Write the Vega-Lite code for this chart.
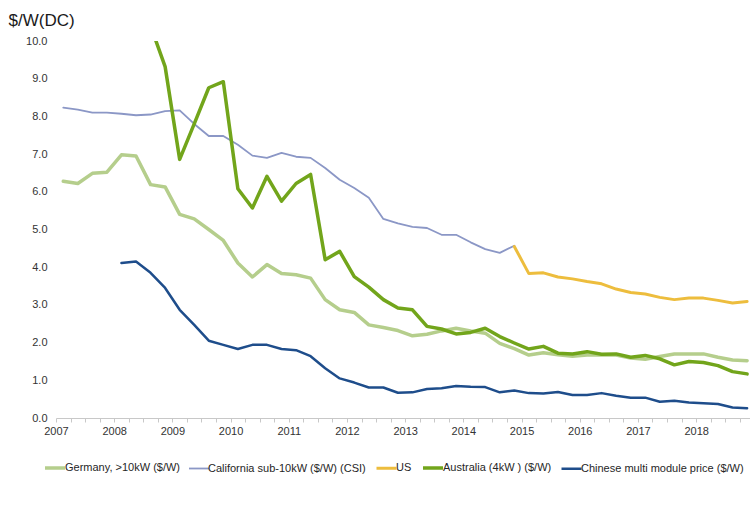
{
  "$schema": "https://vega.github.io/schema/vega-lite/v6.json",
  "autosize": {"type": "none"},
  "padding": {"left": 56, "top": 41, "right": 0, "bottom": 89},
  "width": 694,
  "height": 377,
  "background": "white",
  "config": {"font": "Liberation Sans", "view": {"stroke": null}},
  "data": {"values": [
    {"t": 2007.00, "Germany, >10kW ($/W)": 6.28, "California sub-10kW ($/W) (CSI)": 8.23},
    {"t": 2007.25, "Germany, >10kW ($/W)": 6.22, "California sub-10kW ($/W) (CSI)": 8.18},
    {"t": 2007.50, "Germany, >10kW ($/W)": 6.49, "California sub-10kW ($/W) (CSI)": 8.10},
    {"t": 2007.75, "Germany, >10kW ($/W)": 6.52, "California sub-10kW ($/W) (CSI)": 8.10},
    {"t": 2008.00, "Germany, >10kW ($/W)": 6.98, "California sub-10kW ($/W) (CSI)": 8.07, "Chinese multi module price ($/W)": 4.11},
    {"t": 2008.25, "Germany, >10kW ($/W)": 6.95, "California sub-10kW ($/W) (CSI)": 8.03, "Chinese multi module price ($/W)": 4.15},
    {"t": 2008.50, "Germany, >10kW ($/W)": 6.19, "California sub-10kW ($/W) (CSI)": 8.05, "Australia (4kW ) ($/W)": 10.4, "Chinese multi module price ($/W)": 3.85},
    {"t": 2008.75, "Germany, >10kW ($/W)": 6.13, "California sub-10kW ($/W) (CSI)": 8.14, "Australia (4kW ) ($/W)": 9.32, "Chinese multi module price ($/W)": 3.45},
    {"t": 2009.00, "Germany, >10kW ($/W)": 5.40, "California sub-10kW ($/W) (CSI)": 8.16, "Australia (4kW ) ($/W)": 6.86, "Chinese multi module price ($/W)": 2.87},
    {"t": 2009.25, "Germany, >10kW ($/W)": 5.28, "California sub-10kW ($/W) (CSI)": 7.80, "Australia (4kW ) ($/W)": 7.80, "Chinese multi module price ($/W)": 2.47},
    {"t": 2009.50, "Germany, >10kW ($/W)": 5.00, "California sub-10kW ($/W) (CSI)": 7.48, "Australia (4kW ) ($/W)": 8.76, "Chinese multi module price ($/W)": 2.05},
    {"t": 2009.75, "Germany, >10kW ($/W)": 4.71, "California sub-10kW ($/W) (CSI)": 7.48, "Australia (4kW ) ($/W)": 8.92, "Chinese multi module price ($/W)": 1.94},
    {"t": 2010.00, "Germany, >10kW ($/W)": 4.11, "California sub-10kW ($/W) (CSI)": 7.25, "Australia (4kW ) ($/W)": 6.08, "Chinese multi module price ($/W)": 1.83},
    {"t": 2010.25, "Germany, >10kW ($/W)": 3.74, "California sub-10kW ($/W) (CSI)": 6.96, "Australia (4kW ) ($/W)": 5.57, "Chinese multi module price ($/W)": 1.94},
    {"t": 2010.50, "Germany, >10kW ($/W)": 4.07, "California sub-10kW ($/W) (CSI)": 6.90, "Australia (4kW ) ($/W)": 6.41, "Chinese multi module price ($/W)": 1.94},
    {"t": 2010.75, "Germany, >10kW ($/W)": 3.83, "California sub-10kW ($/W) (CSI)": 7.03, "Australia (4kW ) ($/W)": 5.75, "Chinese multi module price ($/W)": 1.83},
    {"t": 2011.00, "Germany, >10kW ($/W)": 3.80, "California sub-10kW ($/W) (CSI)": 6.93, "Australia (4kW ) ($/W)": 6.22, "Chinese multi module price ($/W)": 1.80},
    {"t": 2011.25, "Germany, >10kW ($/W)": 3.71, "California sub-10kW ($/W) (CSI)": 6.90, "Australia (4kW ) ($/W)": 6.46, "Chinese multi module price ($/W)": 1.64},
    {"t": 2011.50, "Germany, >10kW ($/W)": 3.14, "California sub-10kW ($/W) (CSI)": 6.63, "Australia (4kW ) ($/W)": 4.20, "Chinese multi module price ($/W)": 1.32},
    {"t": 2011.75, "Germany, >10kW ($/W)": 2.87, "California sub-10kW ($/W) (CSI)": 6.32, "Australia (4kW ) ($/W)": 4.42, "Chinese multi module price ($/W)": 1.05},
    {"t": 2012.00, "Germany, >10kW ($/W)": 2.80, "California sub-10kW ($/W) (CSI)": 6.10, "Australia (4kW ) ($/W)": 3.75, "Chinese multi module price ($/W)": 0.94},
    {"t": 2012.25, "Germany, >10kW ($/W)": 2.47, "California sub-10kW ($/W) (CSI)": 5.84, "Australia (4kW ) ($/W)": 3.47, "Chinese multi module price ($/W)": 0.81},
    {"t": 2012.50, "Germany, >10kW ($/W)": 2.40, "California sub-10kW ($/W) (CSI)": 5.28, "Australia (4kW ) ($/W)": 3.14, "Chinese multi module price ($/W)": 0.81},
    {"t": 2012.75, "Germany, >10kW ($/W)": 2.32, "California sub-10kW ($/W) (CSI)": 5.16, "Australia (4kW ) ($/W)": 2.92, "Chinese multi module price ($/W)": 0.67},
    {"t": 2013.00, "Germany, >10kW ($/W)": 2.18, "California sub-10kW ($/W) (CSI)": 5.07, "Australia (4kW ) ($/W)": 2.87, "Chinese multi module price ($/W)": 0.68},
    {"t": 2013.25, "Germany, >10kW ($/W)": 2.22, "California sub-10kW ($/W) (CSI)": 5.04, "Australia (4kW ) ($/W)": 2.43, "Chinese multi module price ($/W)": 0.77},
    {"t": 2013.50, "Germany, >10kW ($/W)": 2.31, "California sub-10kW ($/W) (CSI)": 4.86, "Australia (4kW ) ($/W)": 2.36, "Chinese multi module price ($/W)": 0.79},
    {"t": 2013.75, "Germany, >10kW ($/W)": 2.38, "California sub-10kW ($/W) (CSI)": 4.86, "Australia (4kW ) ($/W)": 2.23, "Chinese multi module price ($/W)": 0.85},
    {"t": 2014.00, "Germany, >10kW ($/W)": 2.31, "California sub-10kW ($/W) (CSI)": 4.66, "Australia (4kW ) ($/W)": 2.27, "Chinese multi module price ($/W)": 0.83},
    {"t": 2014.25, "Germany, >10kW ($/W)": 2.25, "California sub-10kW ($/W) (CSI)": 4.48, "Australia (4kW ) ($/W)": 2.38, "Chinese multi module price ($/W)": 0.82},
    {"t": 2014.50, "Germany, >10kW ($/W)": 1.98, "California sub-10kW ($/W) (CSI)": 4.38, "Australia (4kW ) ($/W)": 2.16, "Chinese multi module price ($/W)": 0.68},
    {"t": 2014.75, "Germany, >10kW ($/W)": 1.84, "California sub-10kW ($/W) (CSI)": 4.57, "US": 4.55, "Australia (4kW ) ($/W)": 1.99, "Chinese multi module price ($/W)": 0.73},
    {"t": 2015.00, "Germany, >10kW ($/W)": 1.67, "US": 3.83, "Australia (4kW ) ($/W)": 1.83, "Chinese multi module price ($/W)": 0.66},
    {"t": 2015.25, "Germany, >10kW ($/W)": 1.73, "US": 3.85, "Australia (4kW ) ($/W)": 1.90, "Chinese multi module price ($/W)": 0.65},
    {"t": 2015.50, "Germany, >10kW ($/W)": 1.68, "US": 3.74, "Australia (4kW ) ($/W)": 1.72, "Chinese multi module price ($/W)": 0.69},
    {"t": 2015.75, "Germany, >10kW ($/W)": 1.64, "US": 3.69, "Australia (4kW ) ($/W)": 1.70, "Chinese multi module price ($/W)": 0.61},
    {"t": 2016.00, "Germany, >10kW ($/W)": 1.67, "US": 3.62, "Australia (4kW ) ($/W)": 1.76, "Chinese multi module price ($/W)": 0.61},
    {"t": 2016.25, "Germany, >10kW ($/W)": 1.67, "US": 3.56, "Australia (4kW ) ($/W)": 1.69, "Chinese multi module price ($/W)": 0.66},
    {"t": 2016.50, "Germany, >10kW ($/W)": 1.67, "US": 3.42, "Australia (4kW ) ($/W)": 1.70, "Chinese multi module price ($/W)": 0.59},
    {"t": 2016.75, "Germany, >10kW ($/W)": 1.59, "US": 3.33, "Australia (4kW ) ($/W)": 1.61, "Chinese multi module price ($/W)": 0.54},
    {"t": 2017.00, "Germany, >10kW ($/W)": 1.56, "US": 3.29, "Australia (4kW ) ($/W)": 1.66, "Chinese multi module price ($/W)": 0.54},
    {"t": 2017.25, "Germany, >10kW ($/W)": 1.63, "US": 3.20, "Australia (4kW ) ($/W)": 1.57, "Chinese multi module price ($/W)": 0.43},
    {"t": 2017.50, "Germany, >10kW ($/W)": 1.70, "US": 3.14, "Australia (4kW ) ($/W)": 1.41, "Chinese multi module price ($/W)": 0.46},
    {"t": 2017.75, "Germany, >10kW ($/W)": 1.70, "US": 3.18, "Australia (4kW ) ($/W)": 1.50, "Chinese multi module price ($/W)": 0.41},
    {"t": 2018.00, "Germany, >10kW ($/W)": 1.70, "US": 3.18, "Australia (4kW ) ($/W)": 1.47, "Chinese multi module price ($/W)": 0.39},
    {"t": 2018.25, "Germany, >10kW ($/W)": 1.61, "US": 3.12, "Australia (4kW ) ($/W)": 1.39, "Chinese multi module price ($/W)": 0.37},
    {"t": 2018.50, "Germany, >10kW ($/W)": 1.54, "US": 3.05, "Australia (4kW ) ($/W)": 1.23, "Chinese multi module price ($/W)": 0.28},
    {"t": 2018.75, "Germany, >10kW ($/W)": 1.52, "US": 3.09, "Australia (4kW ) ($/W)": 1.17, "Chinese multi module price ($/W)": 0.26}
  ]},
  "transform": [
    {"fold": ["Germany, >10kW ($/W)", "California sub-10kW ($/W) (CSI)", "US", "Australia (4kW ) ($/W)", "Chinese multi module price ($/W)"], "as": ["series", "value"]},
    {"filter": "isValid(datum.value)"}
  ],
  "mark": {"type": "line", "clip": true, "strokeJoin": "round", "strokeCap": "round"},
  "encoding": {
    "x": {
      "field": "t", "type": "quantitative",
      "scale": {"domain": [2006.875, 2018.8], "nice": false, "zero": false},
      "axis": {
        "title": null,
        "values": [2007, 2007.25, 2007.5, 2007.75, 2008, 2008.25, 2008.5, 2008.75, 2009, 2009.25, 2009.5, 2009.75, 2010, 2010.25, 2010.5, 2010.75, 2011, 2011.25, 2011.5, 2011.75, 2012, 2012.25, 2012.5, 2012.75, 2013, 2013.25, 2013.5, 2013.75, 2014, 2014.25, 2014.5, 2014.75, 2015, 2015.25, 2015.5, 2015.75, 2016, 2016.25, 2016.5, 2016.75, 2017, 2017.25, 2017.5, 2017.75, 2018, 2018.25, 2018.5, 2018.75],
        "labelExpr": "(datum.value % 1) == 0 ? format(datum.value, 'd') : ''",
        "labelOverlap": false, "labelFlush": false, "labelBound": false,
        "tickOffset": -7.3, "tickSize": 4, "tickColor": "#c8c8c8",
        "domainColor": "#c8c8c8", "grid": false,
        "labelFontSize": 11, "labelColor": "#333333", "labelPadding": 3
      }
    },
    "y": {
      "field": "value", "type": "quantitative",
      "scale": {"domain": [0, 10], "nice": false},
      "axis": {
        "values": [0, 1, 2, 3, 4, 5, 6, 7, 8, 9, 10], "format": ".1f",
        "domain": false, "ticks": false, "grid": false,
        "labelPadding": 9, "labelFontSize": 11, "labelColor": "#333333",
        "title": "$/W(DC)", "titleAngle": 0, "titleX": -48, "titleY": -16,
        "titleAlign": "left", "titleBaseline": "alphabetic",
        "titleFontSize": 17, "titleFontWeight": "normal", "titleColor": "#1a1a1a"
      }
    },
    "color": {
      "field": "series", "type": "nominal",
      "scale": {
        "domain": ["Germany, >10kW ($/W)", "California sub-10kW ($/W) (CSI)", "US", "Australia (4kW ) ($/W)", "Chinese multi module price ($/W)"],
        "range": ["#b5ce8c", "#8b97c6", "#edbd3d", "#72a51b", "#1e4d8b"]
      },
      "legend": {
        "orient": "none", "legendX": -13, "legendY": 415, "direction": "horizontal",
        "title": null, "symbolType": "stroke", "symbolSize": 400, "symbolStrokeWidth": 3,
        "labelFontSize": 11, "labelColor": "#262626", "columnPadding": 4, "labelOffset": -2,
        "labelLimit": 300
      }
    },
    "strokeWidth": {
      "field": "series", "type": "nominal",
      "scale": {
        "type": "ordinal",
        "domain": ["Germany, >10kW ($/W)", "California sub-10kW ($/W) (CSI)", "US", "Australia (4kW ) ($/W)", "Chinese multi module price ($/W)"],
        "range": [3.5, 1.8, 3, 3.5, 2.5]
      },
      "legend": null
    }
  }
}
